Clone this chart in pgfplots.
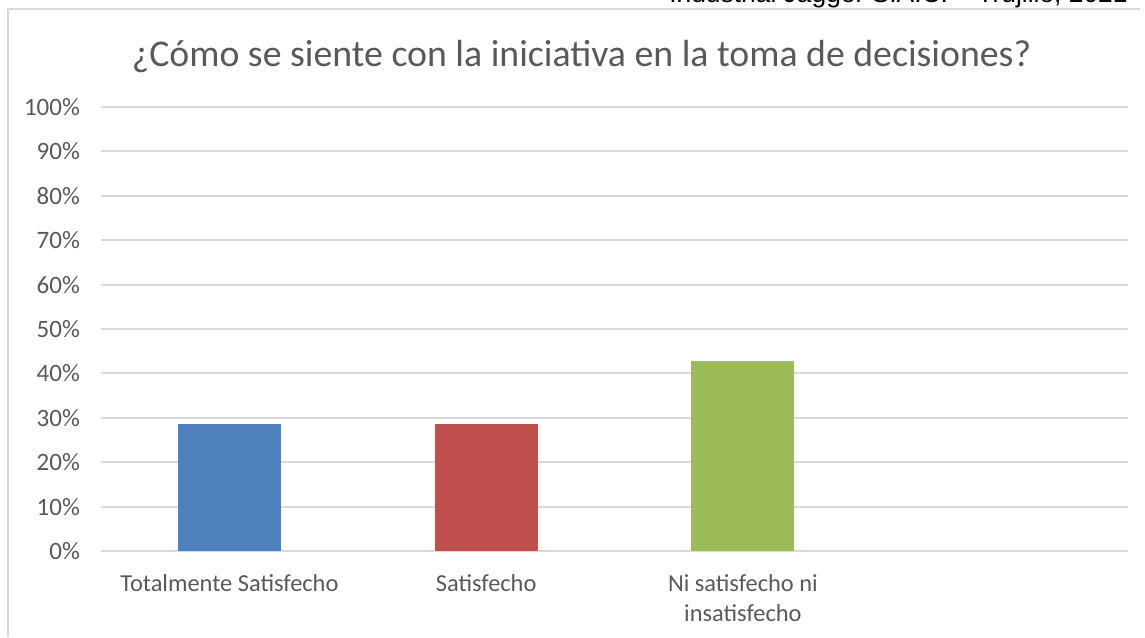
\documentclass[border=0pt]{standalone}
\usepackage{pgfplots}
\pgfplotsset{compat=1.18}
\usepackage{fontspec}
\setmainfont{Carlito}
\newfontfamily\arialfont{Liberation Sans}
\definecolor{txt}{HTML}{595959}
\definecolor{gridc}{HTML}{D9D9D9}
\definecolor{cblue}{HTML}{4F81BD}
\definecolor{cred}{HTML}{C0504D}
\definecolor{cgreen}{HTML}{9BBB59}
\begin{document}
\begin{tikzpicture}
\path[use as bounding box] (0,0) rectangle (572.5pt,318.5pt);
\draw[gridc, line width=0.9pt] (4pt,0) -- (4pt,314pt) -- (570pt,314pt);
\node[anchor=base east, font=\arialfont\fontsize{13.2}{15}\selectfont, inner sep=0pt] at (564pt,317.2pt) {Industrial Jagger S.A.C. – Trujillo, 2021};
\node[anchor=base, font=\fontsize{18.9}{22}\selectfont, text=txt, inner sep=0pt] at (290.75pt,285.2pt) {¿Cómo se siente con la iniciativa en la toma de decisiones?};
\begin{axis}[
  at={(50.5pt,43pt)}, anchor=south west,
  scale only axis, width=513.5pt, height=222pt,
  xmin=-0.5, xmax=3.5, ymin=0, ymax=100,
  axis line style={draw=none},
  major tick length=0pt,
  ytick={0,10,...,100},
  ymajorgrids, grid style={gridc, line width=1pt},
  yticklabel={\pgfmathprintnumber{\tick}\%},
  /pgf/number format/assume math mode=true,
  xtick={0,1,2,3},
  xticklabels={Totalmente Satisfecho, Satisfecho, {Ni satisfecho ni\\insatisfecho}, {}},
  xticklabel style={align=center, font=\fontsize{12.2}{15}\selectfont, text=txt, yshift=-8pt},
  yticklabel style={font=\fontsize{12.5}{14}\selectfont, text=txt, xshift=-7pt},
  ybar, bar width=51.5pt, bar shift=0pt,
]
\addplot[draw=none, fill=cblue] coordinates {(0,28.57)};
\addplot[draw=none, fill=cred] coordinates {(1,28.57)};
\addplot[draw=none, fill=cgreen] coordinates {(2,42.86)};
\end{axis}
\end{tikzpicture}
\end{document}
